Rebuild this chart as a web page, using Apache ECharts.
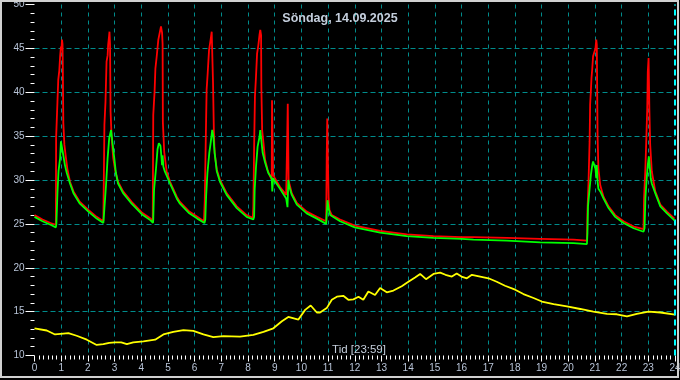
<!DOCTYPE html>
<html>
<head>
<meta charset="utf-8">
<script src="https://cdn.jsdelivr.net/npm/echarts@6/dist/echarts.min.js"></script>
<style>html,body{margin:0;padding:0;background:#000;}#c{width:680px;height:380px;}</style>
</head>
<body>
<div id="c"></div>
<script>
const titleText = 'Söndag, 14.09.2025';
const xTitle = 'Tid [23:59]';
const yName = '°C';
const xTicks = [0, 24, 1];
const yTicks = [10, 50, 5];

const redSeries = [
[0,26.0],[0.3,25.5],[0.6,25.1],[0.80,24.9],
[0.81,34.8],[0.84,35.0],[0.86,38.9],[0.89,41.4],[0.93,42.5],[0.96,44.1],[0.99,45.2],[1.01,44.8],[1.03,46.0],[1.05,45.5],[1.06,43.1],[1.08,36.5],[1.12,34.0],[1.18,32.5],[1.23,31.3],[1.33,29.8],[1.46,28.7],[1.70,27.5],[2.02,26.6],[2.33,25.8],[2.58,25.3],
[2.60,25.3],[2.62,36.3],[2.66,38.9],[2.70,43.5],[2.74,44.2],[2.76,45.4],[2.79,46.3],[2.81,46.9],[2.83,45.5],[2.85,37.8],[2.89,34.8],[2.95,32.5],[3.03,31.0],[3.13,29.8],[3.32,28.7],[3.64,27.5],[4.02,26.3],[4.35,25.6],[4.43,25.3],
[4.45,37.4],[4.50,40.1],[4.53,42.7],[4.58,44.1],[4.64,46.0],[4.70,45.8],[4.74,47.5],[4.78,46.8],[4.80,45.5],[4.81,36.6],[4.86,33.2],[4.95,31.0],[5.08,29.8],[5.33,28.1],[5.45,27.5],[5.8,26.4],[6.1,25.8],[6.35,25.3],
[6.38,27.7],[6.43,36.8],[6.45,40.3],[6.49,42.2],[6.54,44.8],[6.60,46.0],[6.64,46.9],[6.68,46.9],[6.69,41.0],[6.72,35.7],[6.75,33.1],[6.83,31.2],[6.95,30.0],[7.20,28.5],[7.58,27.0],[7.95,26.0],[8.18,25.7],
[8.20,27.0],[8.23,33.8],[8.26,39.5],[8.30,41.8],[8.34,44.4],[8.39,45.4],[8.43,46.5],[8.46,47.1],[8.49,46.5],[8.50,40.6],[8.53,35.7],[8.58,34.2],[8.64,32.3],[8.73,31.2],[8.83,30.4],[8.89,30.0],[8.90,39.1],[8.92,39.1],[8.94,30.6],[8.99,30.3],[9.20,29.2],[9.43,28.3],[9.47,35.0],[9.49,38.7],[9.52,30.0],[9.55,29.6],[9.64,28.5],[9.83,27.4],[10.20,26.4],[10.58,25.8],[10.93,25.3],[10.95,32.7],[10.97,37.0],[10.99,32.7],[11.02,28.0],[11.05,26.6],[11.14,26.0],[11.45,25.5],[12.0,24.8],[12.95,24.2],[13.95,23.8],[14.95,23.6],[16.0,23.5],[16.45,23.5],[17.7,23.4],[18.95,23.3],[20.2,23.2],[20.70,23.1],
[20.72,26.4],[20.76,29.8],[20.80,34.4],[20.82,38.6],[20.85,40.3],[20.87,41.6],[20.90,42.7],[20.93,44.1],[20.98,44.3],[21.02,45.0],[21.05,46.0],[21.07,45.4],[21.10,34.8],[21.13,31.3],[21.20,29.4],[21.32,28.1],[21.51,27.0],[21.76,26.0],[22.07,25.3],[22.45,24.7],[22.82,24.4],
[22.84,27.9],[22.89,31.3],[22.93,35.1],[22.96,38.2],[22.98,42.3],[23.01,43.9],[23.03,43.9],[23.04,38.0],[23.07,34.0],[23.13,31.0],[23.26,28.7],[23.45,27.2],[23.70,26.4],[23.98,25.6]
];

const greenSeries = [
[0,25.8],[0.3,25.3],[0.6,24.9],[0.80,24.6],[0.82,25.0],
[0.86,28.5],[0.90,31.0],[0.96,32.5],[0.99,34.4],[1.04,34.6],[1.08,32.8],[1.14,31.7],[1.21,30.8],[1.33,29.6],[1.46,28.5],[1.70,27.3],[2.02,26.4],[2.33,25.6],[2.58,25.1],
[2.62,26.8],[2.68,29.4],[2.74,32.5],[2.80,34.8],[2.87,35.7],[2.93,34.0],[2.99,32.5],[3.05,30.8],[3.13,29.6],[3.32,28.5],[3.64,27.3],[4.02,26.1],[4.35,25.4],[4.44,25.1],
[4.45,25.5],[4.48,28.9],[4.55,31.2],[4.61,33.5],[4.66,34.2],[4.72,33.9],[4.76,32.5],[4.78,31.7],[4.80,32.8],[4.83,31.5],[4.88,31.0],[4.95,30.8],[5.08,29.6],[5.33,27.9],[5.45,27.3],[5.8,26.2],[6.1,25.6],[6.37,25.1],
[6.40,25.5],[6.43,28.1],[6.48,30.8],[6.55,33.1],[6.60,34.2],[6.66,35.7],[6.70,35.0],[6.75,33.1],[6.83,31.0],[6.95,29.8],[7.20,28.3],[7.58,26.8],[7.95,25.8],[8.20,25.5],
[8.23,25.8],[8.25,28.9],[8.30,31.5],[8.36,33.8],[8.43,34.9],[8.46,35.7],[8.50,34.5],[8.55,33.1],[8.64,32.0],[8.76,30.8],[8.89,30.2],[8.91,28.7],[8.94,30.2],[9.00,29.9],[9.20,29.0],[9.43,27.9],[9.48,26.9],[9.51,30.0],[9.55,29.2],[9.64,28.3],[9.83,27.2],[10.20,26.2],[10.58,25.6],[10.93,25.0],[10.98,27.7],[11.02,26.8],[11.08,26.0],[11.45,25.3],[12.0,24.6],[12.95,24.0],[13.95,23.6],[14.95,23.4],[16.0,23.3],[16.45,23.2],[17.7,23.1],[18.95,22.9],[20.2,22.8],[20.70,22.7],
[20.72,24.0],[20.74,27.0],[20.80,29.0],[20.85,30.6],[20.90,31.7],[20.93,32.1],[20.98,32.1],[21.02,31.3],[21.05,30.2],[21.07,31.7],[21.10,29.8],[21.13,29.0],[21.20,28.7],[21.32,27.9],[21.51,26.8],[21.76,25.8],[22.07,25.1],[22.45,24.5],[22.82,24.1],
[22.86,24.5],[22.89,27.9],[22.94,30.2],[22.98,31.7],[23.02,32.7],[23.05,31.7],[23.09,30.2],[23.13,29.6],[23.26,28.5],[23.45,27.0],[23.70,26.2],[23.98,25.4]
];

const yellowSeries = [
[0,13.1],[0.46,12.85],[0.77,12.4],[1.08,12.5],[1.27,12.55],[1.58,12.25],[1.96,11.8],[2.33,11.2],[2.58,11.3],[2.8,11.45],[3.02,11.5],[3.25,11.5],[3.46,11.3],[3.70,11.5],[4.08,11.6],[4.52,11.8],[4.83,12.4],[5.20,12.7],[5.58,12.9],[5.95,12.8],[6.33,12.4],[6.70,12.1],[7.08,12.2],[7.70,12.15],[8.20,12.35],[8.58,12.7],[8.95,13.1],[9.27,13.9],[9.51,14.4],[9.89,14.1],[10.14,15.2],[10.35,15.7],[10.58,14.9],[10.70,14.9],[10.95,15.4],[11.14,16.35],[11.33,16.7],[11.57,16.8],[11.76,16.35],[11.95,16.4],[12.14,16.7],[12.32,16.35],[12.51,17.3],[12.76,16.9],[12.95,17.7],[13.20,17.2],[13.45,17.4],[13.76,17.9],[14.01,18.4],[14.26,18.9],[14.45,19.3],[14.67,18.7],[14.95,19.3],[15.2,19.45],[15.4,19.2],[15.64,19.0],[15.82,19.35],[16.0,19.0],[16.2,18.8],[16.39,19.2],[16.70,19.0],[17.01,18.8],[17.32,18.4],[17.63,17.95],[18.01,17.5],[18.32,17.0],[18.70,16.55],[19.01,16.15],[19.45,15.85],[19.95,15.6],[20.45,15.3],[20.94,15.0],[21.45,14.75],[21.82,14.7],[22.20,14.45],[22.57,14.75],[23.01,15.0],[23.45,14.9],[24.0,14.65]
];

const labelColor = '#b8c4d8';
const font = 'Liberation Sans';
const chart = echarts.init(document.getElementById('c'), null, {renderer: 'canvas'});
chart.setOption({
  backgroundColor: '#000',
  animation: false,
  title: {
    text: titleText, left: 'center', top: 12, padding: 0,
    textStyle: {color: '#c4cedc', fontFamily: font, fontSize: 12.5, fontWeight: 'bold'}
  },
  grid: {left: 34.5, right: 5, top: 4.5, bottom: 24.5, containLabel: false, outerBoundsMode: 'none'},
  xAxis: {
    type: 'value', min: xTicks[0], max: xTicks[1], interval: xTicks[2],
    axisLine: {show: false},
    axisTick: {show: true, length: 6, lineStyle: {color: '#ffffff'}},
    minorTick: {show: true, splitNumber: 6, length: 4, lineStyle: {color: '#ffffff'}},
    axisLabel: {color: labelColor, fontFamily: font, fontSize: 10, margin: 8},
    splitLine: {show: true, showMinLine: false, showMaxLine: false, lineStyle: {color: '#008b8b', type: [4, 4], width: 1}}
  },
  yAxis: {
    type: 'value', min: yTicks[0], max: yTicks[1], interval: yTicks[2],
    name: yName, nameLocation: 'middle', nameRotate: 90, nameGap: 24,
    nameTextStyle: {color: labelColor, fontFamily: font, fontSize: 12},
    axisLine: {show: false},
    axisTick: {show: true, length: 9, lineStyle: {color: '#ffffff'}},
    minorTick: {show: true, splitNumber: 5, length: 4, lineStyle: {color: '#ffffff'}},
    axisLabel: {color: labelColor, fontFamily: font, fontSize: 10, margin: 10},
    splitLine: {show: true, showMinLine: false, showMaxLine: false, lineStyle: {color: '#008b8b', type: [5, 3], width: 1}}
  },
  graphic: [
    {type: 'rect', shape: {x: 1, y: 1, width: 677, height: 376}, style: {fill: 'none', stroke: '#d0d0d0', lineWidth: 2}, silent: true, z: 100},
    {type: 'text', x: 359, y: 349.5, style: {text: xTitle, fill: '#c4cedc', font: '11.5px "Liberation Sans"', textAlign: 'center', textVerticalAlign: 'middle'}, z: 100}
  ],
  series: [
    {type: 'line', data: yellowSeries, showSymbol: false, lineStyle: {color: '#ffff00', width: 1.8}, z: 3},
    {type: 'line', data: redSeries, showSymbol: false, lineStyle: {color: '#ff0000', width: 1.8}, z: 4},
    {type: 'line', data: greenSeries, showSymbol: false, lineStyle: {color: '#00ff00', width: 1.8}, z: 5,
      markLine: {silent: true, symbol: 'none', label: {show: false}, lineStyle: {color: '#00ffff', type: [6, 4], width: 2},
        data: [{xAxis: 24}]}}
  ]
});
</script>
</body>
</html>
